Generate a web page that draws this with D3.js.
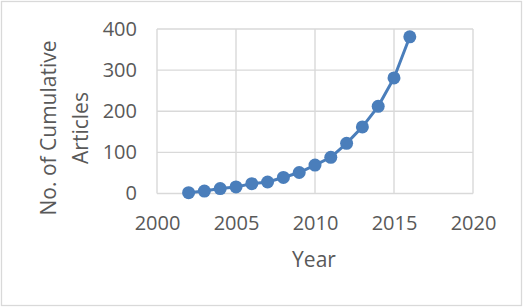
<!DOCTYPE html>
<html>
<head>
<meta charset="utf-8">
<script src="https://cdn.jsdelivr.net/npm/d3@7"></script>
<style>
  body { margin: 0; background: #fff; }
  svg { display: block; }
</style>
</head>
<body>
<div id="chart"></div>
<script>
// Years and cumulative article counts
const years = [2002, 2003, 2004, 2005, 2006, 2007, 2008, 2009, 2010, 2011, 2012, 2013, 2014, 2015, 2016];
const articles = [2, 6, 12, 16, 24, 28, 39, 51, 69, 88, 122, 162, 212, 281, 381];
const xTicks = [2000, 2005, 2010, 2015, 2020];
const yTicks = [0, 100, 200, 300, 400];

const width = 523, height = 307;
const textColor = "#595959";
const gridColor = "#d9d9d9";
const lineColor = "#4a7ebb";
const font = "'Open Sans', sans-serif";

const svg = d3.select("#chart").append("svg")
  .attr("width", width)
  .attr("height", height);

// outer chart frame
svg.append("rect")
  .attr("x", 1.5).attr("y", 1.5)
  .attr("width", width - 3).attr("height", height - 3)
  .attr("fill", "#fff")
  .attr("stroke", gridColor)
  .attr("stroke-width", 1.3);

const x = d3.scaleLinear().domain([2000, 2020]).range([157, 473]);
const y = d3.scaleLinear().domain([0, 400]).range([193.5, 29]);

// gridlines
svg.append("g").selectAll("line").data(xTicks).join("line")
  .attr("x1", d => x(d)).attr("x2", d => x(d))
  .attr("y1", y(0)).attr("y2", y(400))
  .attr("stroke", gridColor).attr("stroke-width", 1.4);

svg.append("g").selectAll("line").data(yTicks).join("line")
  .attr("x1", x(2000)).attr("x2", x(2020))
  .attr("y1", d => y(d)).attr("y2", d => y(d))
  .attr("stroke", gridColor).attr("stroke-width", 1.4);

// axes (labels only)
const xAxis = svg.append("g")
  .attr("transform", `translate(0,${y(0)})`)
  .call(d3.axisBottom(x).tickValues(xTicks).tickFormat(d3.format("d")).tickSize(0).tickPadding(22));
const yAxis = svg.append("g")
  .attr("transform", `translate(${x(2000)},0)`)
  .call(d3.axisLeft(y).tickValues(yTicks).tickSize(0).tickPadding(20));

[xAxis, yAxis].forEach(a => {
  a.select(".domain").remove();
  a.selectAll("text")
    .attr("fill", textColor)
    .style("font-family", font)
    .style("font-size", "20px");
});

// series line and markers
const line = d3.line()
  .x((d, i) => x(years[i]))
  .y(d => y(d));

svg.append("path")
  .datum(articles)
  .attr("d", line)
  .attr("fill", "none")
  .attr("stroke", lineColor)
  .attr("stroke-width", 3);

svg.append("g").selectAll("circle").data(articles).join("circle")
  .attr("cx", (d, i) => x(years[i]))
  .attr("cy", d => y(d))
  .attr("r", 6.5)
  .attr("fill", lineColor);

// axis titles
svg.append("text")
  .attr("x", 314).attr("y", 267)
  .attr("text-anchor", "middle")
  .attr("fill", textColor)
  .style("font-family", font)
  .style("font-size", "21px")
  .text("Year");

const yTitle = svg.append("text")
  .attr("transform", "translate(0,128) rotate(-90)")
  .attr("text-anchor", "middle")
  .attr("fill", textColor)
  .style("font-family", font)
  .style("font-size", "21px");
yTitle.append("tspan").attr("x", 0).attr("y", 56).text("No. of Cumulative");
yTitle.append("tspan").attr("x", 0).attr("y", 88).text("Articles");
</script>
</body>
</html>
